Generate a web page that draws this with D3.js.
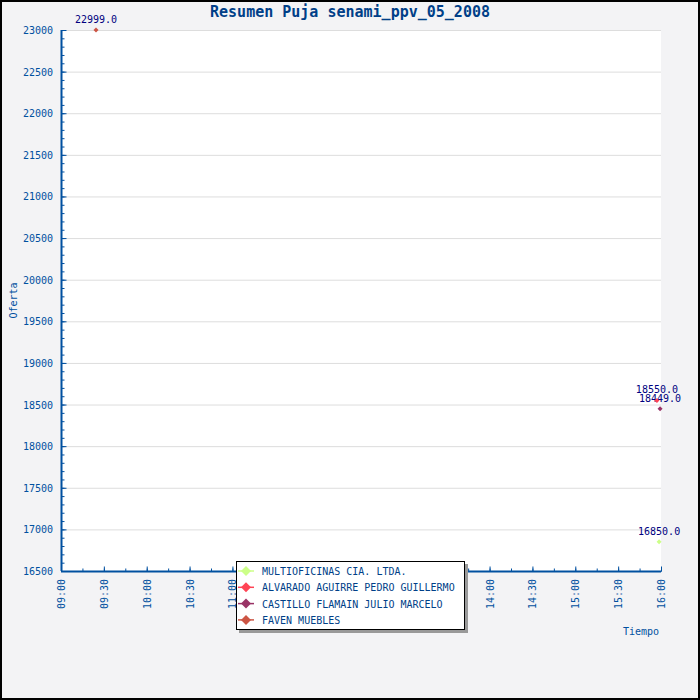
<!DOCTYPE html>
<html>
<head>
<meta charset="utf-8">
<script src="https://cdn.jsdelivr.net/npm/d3@7"></script>
<style>
  body { margin: 0; background: #fff; }
  text { font-family: "DejaVu Sans Mono", monospace; }
</style>
</head>
<body>
<div id="chart-area"></div>
<script>
// chart data
var seriesNames = ["MULTIOFICINAS CIA. LTDA.", "ALVARADO AGUIRRE PEDRO GUILLERMO", "CASTILLO FLAMAIN JULIO MARCELO", "FAVEN MUEBLES"];
var seriesColors = ["#ccff88", "#ff4455", "#993366", "#cc5544"];
var bidTimes = ["15:58:40", "15:57:10", "15:59:20", "09:24:30"];
var bidValues = [16850, 18550, 18449, 22999];
var yTicks = [16500, 17000, 17500, 18000, 18500, 19000, 19500, 20000, 20500, 21000, 21500, 22000, 22500, 23000];
var xTickLabels = ["09:00", "09:30", "10:00", "10:30", "11:00", "11:30", "12:00", "12:30", "13:00", "13:30", "14:00", "14:30", "15:00", "15:30", "16:00"];

var W = 700, H = 700;
var margin = {left: 61, right: 39, top: 30, bottom: 129};
var axisColor = "#0050a0";

var parseTime = d3.timeParse("%H:%M:%S");
function toDate(s){
    if (s.length == 5) { s = s + ":00"; }
    return parseTime(s);
}

var points = bidValues.map(function(v, i){
    return {name: seriesNames[i], color: seriesColors[i], t: toDate(bidTimes[i]), v: v};
});

var svg = d3.select("#chart-area").append("svg")
    .attr("width", W)
    .attr("height", H);

svg.append("rect")
    .attr("x", 1).attr("y", 1)
    .attr("width", W - 2).attr("height", H - 2)
    .attr("fill", "#f3f3f5")
    .attr("stroke", "#000")
    .attr("stroke-width", 2);

var x = d3.scaleTime()
    .domain([toDate("09:00"), toDate("16:00")])
    .range([margin.left, W - margin.right]);

var y = d3.scaleLinear()
    .domain([16500, 23000])
    .range([H - margin.bottom, margin.top]);

// plot area
svg.append("rect")
    .attr("x", x.range()[0]).attr("y", y.range()[1])
    .attr("width", x.range()[1] - x.range()[0])
    .attr("height", y.range()[0] - y.range()[1])
    .attr("fill", "#fff");

// grid
svg.selectAll(".grid")
    .data(yTicks.slice(1))
    .enter()
    .append("line")
        .attr("x1", x.range()[0])
        .attr("x2", x.range()[1])
        .attr("y1", function(d){ return y(d) + 0.5; })
        .attr("y2", function(d){ return y(d) + 0.5; })
        .attr("stroke", "#dddddd");

// y axis
var yMinor = d3.range(16500, 23001, 100);
var yAxis = svg.append("g")
    .attr("transform", "translate(" + (margin.left + 0.5) + ",0)");
yAxis.call(d3.axisRight(y).tickValues(yMinor).tickSize(3).tickFormat(""));
yAxis.call(function(g){ g.select(".domain").remove(); });
var yMajor = svg.append("g")
    .attr("transform", "translate(" + (margin.left + 0.5) + ",0)");
yMajor.call(d3.axisRight(y).tickValues(yTicks).tickSize(5).tickFormat(""));
yMajor.select(".domain").attr("d", "M0," + y.range()[1] + "V" + y.range()[0]);

svg.selectAll(".ylab")
    .data(yTicks)
    .enter()
    .append("text")
        .attr("x", margin.left - 8)
        .attr("y", function(d){ return y(d) + 4; })
        .attr("text-anchor", "end")
        .attr("font-size", "10px")
        .attr("fill", axisColor)
        .text(function(d){ return d; });

// x axis
var xMinorTicks = d3.timeMinute.every(15).range(toDate("09:00"), d3.timeSecond.offset(toDate("16:00"), 1));
var xMajorTicks = xTickLabels.map(toDate);
var xAxisG = svg.append("g")
    .attr("transform", "translate(0," + (y.range()[0] + 0.5) + ")");
xAxisG.call(d3.axisTop(x).tickValues(xMinorTicks).tickSize(3).tickFormat(""));
var xMajorG = svg.append("g")
    .attr("transform", "translate(0," + (y.range()[0] + 0.5) + ")");
xMajorG.call(d3.axisTop(x).tickValues(xMajorTicks).tickSize(5).tickFormat(""));
xAxisG.select(".domain").remove();
xMajorG.select(".domain").attr("d", "M" + x.range()[0] + ",0H" + x.range()[1]);
svg.selectAll("g .tick line").attr("stroke", axisColor);
svg.selectAll("g .domain").attr("stroke", axisColor).attr("stroke-width", 2);

svg.selectAll(".xlab")
    .data(xTickLabels)
    .enter()
    .append("text")
        .attr("transform", function(d){
            return "translate(" + (x(toDate(d)) + 4) + "," + (y.range()[0] + 8) + ") rotate(-90)";
        })
        .attr("text-anchor", "end")
        .attr("font-size", "10px")
        .attr("fill", axisColor)
        .text(function(d){ return d; });

// axis titles
svg.append("text")
    .attr("transform", "translate(17," + ((y.range()[0] + y.range()[1]) / 2) + ") rotate(-90)")
    .attr("text-anchor", "middle")
    .attr("font-size", "10px")
    .attr("fill", axisColor)
    .text("Oferta");

svg.append("text")
    .attr("x", 659)
    .attr("y", 635)
    .attr("text-anchor", "end")
    .attr("font-size", "10px")
    .attr("fill", axisColor)
    .text("Tiempo");

// title
svg.append("text")
    .attr("x", 350)
    .attr("y", 17)
    .attr("text-anchor", "middle")
    .attr("font-size", "15px")
    .attr("font-weight", "bold")
    .attr("fill", "#003f88")
    .text("Resumen Puja senami_ppv_05_2008");

// point labels, then markers on top
function diamond(s){ return "M0," + (-s) + "L" + s + ",0L0," + s + "L" + (-s) + ",0Z"; }

svg.selectAll(".ptlab")
    .data(points)
    .enter()
    .append("text")
        .attr("x", function(d){ return x(d.t); })
        .attr("y", function(d){ return y(d.v) - 7; })
        .attr("text-anchor", "middle")
        .attr("font-size", "10px")
        .attr("fill", "#000080")
        .text(function(d){ return d.v.toFixed(1); });

svg.selectAll(".pt")
    .data(points)
    .enter()
    .append("path")
        .attr("transform", function(d){ return "translate(" + x(d.t) + "," + y(d.v) + ")"; })
        .attr("d", diamond(2.5))
        .attr("fill", function(d){ return d.color; });

// legend
var lg = svg.append("g").attr("transform", "translate(236,561)");
lg.append("rect")
    .attr("x", 3).attr("y", 3)
    .attr("width", 229).attr("height", 69)
    .attr("fill", "#999");
lg.append("rect")
    .attr("x", 0.5).attr("y", 0.5)
    .attr("width", 228).attr("height", 68)
    .attr("fill", "#fff")
    .attr("stroke", "#000");

var items = lg.selectAll(".item")
    .data(points)
    .enter()
    .append("g")
        .attr("transform", function(d, i){ return "translate(0," + (10 + i * 16.3) + ")"; });
items.append("line")
    .attr("x1", 2).attr("x2", 18)
    .attr("stroke", function(d){ return d.color; })
    .attr("stroke-width", 1.5);
items.append("path")
    .attr("transform", "translate(10,0)")
    .attr("d", diamond(5))
    .attr("fill", function(d){ return d.color; });
items.append("text")
    .attr("x", 26)
    .attr("y", 4)
    .attr("font-size", "10px")
    .attr("fill", "#003f88")
    .text(function(d){ return d.name; });
</script>
</body>
</html>
